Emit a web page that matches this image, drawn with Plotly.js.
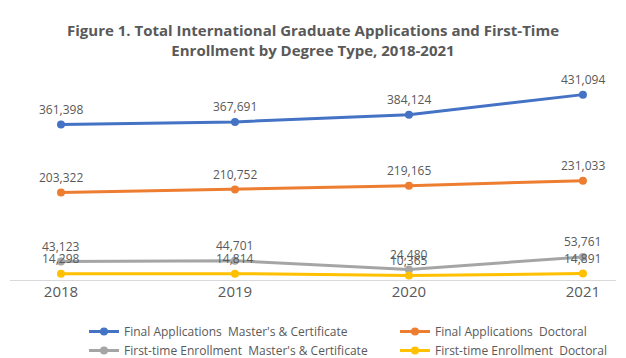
<!DOCTYPE html>
<html>
<head>
<meta charset="utf-8">
<script src="https://cdn.plot.ly/plotly-3.0.1.min.js"></script>
<style>html,body{margin:0;padding:0;background:#fff;}#chart{width:626px;height:358px;}</style>
</head>
<body>
<div id="chart"></div>
<script>
var years = ['2018', '2019', '2020', '2021'];
var seriesNames = [
  "Final Applications  Master's & Certificate",
  "Final Applications  Doctoral",
  "First-time Enrollment  Master's & Certificate",
  "First-time Enrollment  Doctoral"
];
var appsMasters = [361398, 367691, 384124, 431094];
var appsDoctoral = [203322, 210752, 219165, 231033];
var enrollMasters = [43123, 44701, 24480, 53761];
var enrollDoctoral = [14298, 14814, 10365, 14891];
var colors = ['#4472C4', '#ED7D31', '#A5A5A5', '#FFC000'];
var legendGroups = ['legend', 'legend2', 'legend', 'legend2'];

var allSeries = [appsMasters, appsDoctoral, enrollMasters, enrollDoctoral];
var fontFam = '"Open Sans", "Liberation Sans", Arial, sans-serif';
var textColor = '#595959';

function fmt(v) {
  return String(v).replace(/\B(?=(\d{3})+(?!\d))/g, ',');
}

var traces = allSeries.map(function (vals, i) {
  return {
    x: years,
    y: vals,
    name: seriesNames[i],
    legend: legendGroups[i],
    type: 'scatter',
    mode: 'lines+markers',
    line: {color: colors[i], width: 3},
    marker: {color: colors[i], size: 8},
    cliponaxis: false,
    hoverinfo: 'x+y+name'
  };
});

var annotations = [];
allSeries.forEach(function (vals) {
  vals.forEach(function (v, j) {
    annotations.push({
      x: j,
      y: v,
      xref: 'x',
      yref: 'y',
      text: fmt(v),
      showarrow: false,
      yshift: 15,
      xanchor: 'center',
      yanchor: 'middle',
      font: {family: fontFam, size: 12, color: textColor}
    });
  });
});

var legendCommon = {
  orientation: 'v',
  xanchor: 'left',
  yanchor: 'top',
  y: -0.172,
  tracegroupgap: 0,
  font: {family: fontFam, size: 12, color: textColor},
  bgcolor: 'rgba(0,0,0,0)',
  borderwidth: 0
};

var layout = {
  width: 626,
  height: 358,
  margin: {l: 10, r: 10, t: 65, b: 78, autoexpand: false},
  paper_bgcolor: '#ffffff',
  plot_bgcolor: '#ffffff',
  font: {family: fontFam, color: textColor},
  title: {
    text: '<b>Figure 1. Total International Graduate Applications and First-Time<br>Enrollment by Degree Type, 2018-2021</b>',
    font: {family: fontFam, size: 15, color: textColor},
    x: 0.5,
    xanchor: 'center',
    y: 0.899,
    yanchor: 'top'
  },
  xaxis: {
    type: 'category',
    range: [-0.293, 3.19],
    showgrid: false,
    zeroline: false,
    showline: true,
    linecolor: '#d9d9d9',
    linewidth: 1,
    ticks: '',
    ticklabelstandoff: -2,
    tickfont: {family: fontFam, size: 15, color: textColor},
    fixedrange: true
  },
  yaxis: {
    range: [0, 500000],
    showgrid: false,
    zeroline: false,
    showline: false,
    showticklabels: false,
    ticks: '',
    fixedrange: true
  },
  showlegend: true,
  legend: Object.assign({}, legendCommon, {x: (84 - 10) / 606}),
  legend2: Object.assign({}, legendCommon, {x: (395 - 10) / 606}),
  annotations: annotations
};

Plotly.newPlot('chart', traces, layout, {displayModeBar: false, staticPlot: true});
</script>
</body>
</html>
